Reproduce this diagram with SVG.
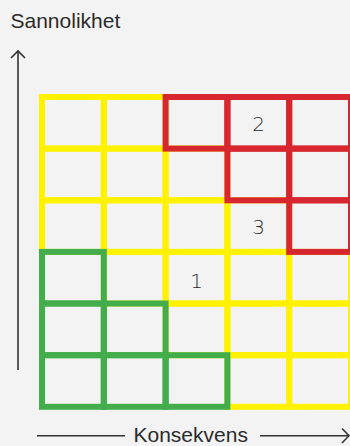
<svg xmlns="http://www.w3.org/2000/svg" width="350" height="446" viewBox="0 0 350 446">
<defs>
<style>
.c{fill:none;stroke-width:6;stroke-linejoin:miter;stroke-linecap:square}
.y{stroke:#fff200}
.g{stroke:#42ad4a}
.r{stroke:#d7262e}
.ax{fill:none;stroke:#333;stroke-width:1.6}
.lbl{font-family:"Liberation Sans",Arial,sans-serif;font-size:21px;fill:#2b2b2b}
.num{font-family:"DejaVu Sans",sans-serif;font-weight:200;font-size:20px;fill:#2b2b2b;text-anchor:middle}
</style>
</defs>
<rect width="350" height="446" fill="#f2f3f2"/>
<g id="yellow-cells">
<rect class="c y" x="42" y="97" width="61.8" height="51.6"/>
<rect class="c y" x="103.8" y="97" width="61.8" height="51.6"/>
<rect class="c y" x="42" y="148.6" width="61.8" height="51.7"/>
<rect class="c y" x="103.8" y="148.6" width="61.8" height="51.7"/>
<rect class="c y" x="165.6" y="148.6" width="61.8" height="51.7"/>
<rect class="c y" x="42" y="200.3" width="61.8" height="51.6"/>
<rect class="c y" x="103.8" y="200.3" width="61.8" height="51.6"/>
<rect class="c y" x="165.6" y="200.3" width="61.8" height="51.6"/>
<rect class="c y" x="227.4" y="200.3" width="61.8" height="51.6"/>
<rect class="c y" x="103.8" y="251.9" width="61.8" height="51.6"/>
<rect class="c y" x="165.6" y="251.9" width="61.8" height="51.6"/>
<rect class="c y" x="227.4" y="251.9" width="61.8" height="51.6"/>
<rect class="c y" x="289.2" y="251.9" width="61.8" height="51.6"/>
<rect class="c y" x="165.6" y="303.5" width="61.8" height="51.7"/>
<rect class="c y" x="227.4" y="303.5" width="61.8" height="51.7"/>
<rect class="c y" x="289.2" y="303.5" width="61.8" height="51.7"/>
<rect class="c y" x="227.4" y="355.2" width="61.8" height="51.6"/>
<rect class="c y" x="289.2" y="355.2" width="61.8" height="51.6"/>
</g>
<g id="green-cells">
<rect class="c g" x="42" y="251.9" width="61.8" height="51.6"/>
<rect class="c g" x="42" y="303.5" width="61.8" height="51.7"/>
<rect class="c g" x="103.8" y="303.5" width="61.8" height="51.7"/>
<rect class="c g" x="42" y="355.2" width="61.8" height="51.6"/>
<rect class="c g" x="103.8" y="355.2" width="61.8" height="51.6"/>
<rect class="c g" x="165.6" y="355.2" width="61.8" height="51.6"/>
</g>
<g id="red-cells">
<rect class="c r" x="165.6" y="97" width="61.8" height="51.6"/>
<rect class="c r" x="227.4" y="97" width="61.8" height="51.6"/>
<rect class="c r" x="289.2" y="97" width="61.8" height="51.6"/>
<rect class="c r" x="227.4" y="148.6" width="61.8" height="51.7"/>
<rect class="c r" x="289.2" y="148.6" width="61.8" height="51.7"/>
<rect class="c r" x="289.2" y="200.3" width="61.8" height="51.6"/>
</g>
<g id="numbers">
<text class="num" x="258.5" y="131">2</text>
<text class="num" x="258.5" y="234">3</text>
<text class="num" x="196.5" y="287.5">1</text>
</g>
<g id="connectors">
<line class="ax" x1="18" y1="51" x2="18" y2="370"/>
<polyline class="ax" points="11,58 18,51 25,58"/>
<line class="ax" x1="37" y1="435.7" x2="125" y2="435.7"/>
<line class="ax" x1="260" y1="435.7" x2="348.5" y2="435.7"/>
<polyline class="ax" points="342,428.5 349,435.7 342,443"/>
</g>
<g id="labels">
<text class="lbl" x="10.5" y="28.3">Sannolikhet</text>
<text class="lbl" x="133.5" y="441.7">Konsekvens</text>
</g>
</svg>
